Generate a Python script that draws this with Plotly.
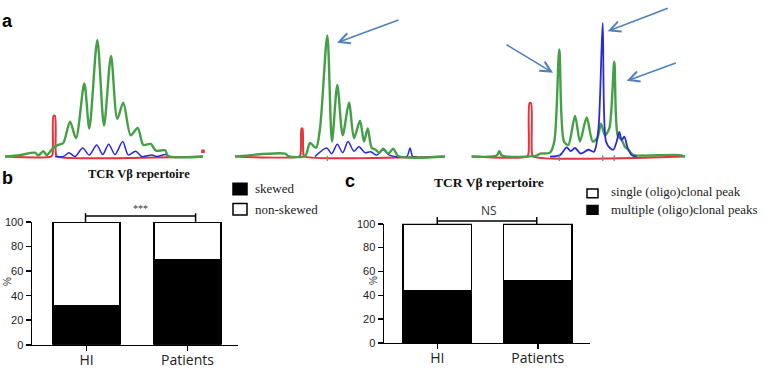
import plotly.graph_objects as go

W, H = 778, 376
def X(px): return px / W
def Y(py): return 1 - py / H

# ---------------- Panel a: spectratype traces ----------------
# plot a1
a1_red_x = [5, 51, 52.5, 53.5, 55, 56, 57.5, 203]
a1_red_y = [0, 0, 2, 42, 42, 2, 0, 0]
a1_green_x = [5, 20, 35, 38.3, 43.3, 46.7, 50, 53.3, 58.3, 63.3, 70, 76, 84.3, 89.3, 97.3, 104, 111, 117.3,
              123.3, 130.7, 137.7, 143.3, 150.7, 156, 165, 168.3, 203]
a1_green_y = [0, 1.5, 4, 1, 5.5, 1.5, 5, 9, 12, 14, 36, 19, 75.5, 29, 120.5, 32, 104, 39,
              55.5, 22, 29.5, 12, 13, 6, 6.5, 0.5, 0]
a1_blue_x = [55, 63.3, 69, 75, 82.7, 89.3, 96.7, 102.7, 108.7, 115, 122.7, 128.3, 135.7, 141.7, 151.7, 156.7, 165.7, 168.3]
a1_blue_y = [0, 0, 3.8, 0, 8.8, 1.5, 12, 2, 12.8, 2, 15.5, 1.5, 5.5, 0, 1.5, 0, 2, 0]
a1_dot_x = [203]
a1_dot_y = [5.5]

# plot a2
a2_red_x = [10, 74, 75.5, 76.5, 77.5, 78.5, 80, 220]
a2_red_y = [0, 0, 2, 29, 29, 2, 0, 0]
a2_green_x = [10, 60, 63.3, 80, 85, 91, 95, 102.3, 107, 112.3, 117.7, 124, 129, 135, 139, 142.7, 146.7,
              150.7, 154, 158.3, 163.3, 168.3, 173.3, 220]
a2_green_y = [0, 3, 0.5, 0.5, 14, 9, 29, 125, 15.5, 74, 22, 55.5, 19, 37, 15.5, 29, 9,
              7, 4, 8, 3, 8, 0.5, 0]
a2_blue_x = [90, 101.7, 106.7, 112.3, 117.7, 123, 129, 134, 140, 145.7, 151.7, 158.3, 164.3, 181.7, 185, 187.7, 191.7]
a2_blue_y = [0, 8.8, 3, 12.8, 4, 15.5, 5.5, 10, 4, 5, 1.5, 7, 1.5, 0, 8.8, 0, 0]
a2_marks_x = [102.3]
a2_marks_y = [-3]

# plot a3
a3_red_x = [6.7, 62, 63.5, 64.5, 66, 67, 68.5, 220]
a3_red_y = [0, 0, 3, 55, 55, 3, 0, 0]
a3_green_x = [6.7, 31.7, 34.3, 37, 71.7, 75, 85, 89.3, 94.3, 99, 103.3, 110, 115, 121.7, 127.7, 132.3, 136,
              140, 144.3, 149.3, 152.7, 156.7, 160, 163.3, 168.3, 178.3, 215, 220]
a3_green_y = [0, 1, 5.5, 1, 1, 3, 4, 15.5, 110.5, 15.5, 12, 42, 15.5, 40.5, 15.5, 19, 34,
              22, 29, 98, 22, 17, 10, 7, 1.5, 1, 1.5, 0]
a3_blue_x = [85, 95, 101.7, 105.7, 110, 115.7, 123.3, 129, 133.3, 137.7, 141, 145, 148.3, 151.7, 154.3,
             156.7, 159.3, 162.7, 166.7, 171.7]
a3_blue_y = [0, 1.5, 9.5, 5.5, 8.8, 3, 7, 5, 27, 138, 15.5, 8.8, 7, 15.5, 25.5, 17, 20.5, 8.8, 1.5, 0]
a3_marks_x = [94.3, 137.7, 149.3]
a3_marks_y = [-3, -3, -3]

# ---------------- Panels b and c ----------------
groups = ["HI", "Patients"]
b_skewed = [32, 69]
b_nonskewed = [68, 31]
c_multiple = [44, 52]
c_single = [56, 48]
y_ticks = [0, 20, 40, 60, 80, 100]

GREEN = "#43a046"
BLUE = "#2b2bd6"
RED = "#e5323b"
ARROW = "#4f81bd"

fig = go.Figure()

def spec(xs, ys, color, width, ax):
    fig.add_trace(go.Scatter(x=xs, y=ys, mode="lines", line=dict(color=color, width=width, shape="spline", smoothing=0.8),
                             xaxis="x" + ax, yaxis="y" + ax, hoverinfo="skip", showlegend=False))

def marks(xs, ys, color, symbol, size, ax):
    fig.add_trace(go.Scatter(x=xs, y=ys, mode="markers",
                             marker=dict(symbol=symbol, size=size, color=color, line=dict(color=color, width=1.5)),
                             xaxis="x" + ax, yaxis="y" + ax, hoverinfo="skip", showlegend=False))

spec(a1_red_x, a1_red_y, RED, 2, "3")
spec(a1_blue_x, a1_blue_y, BLUE, 1.5, "3")
spec(a1_green_x, a1_green_y, GREEN, 2.4, "3")
marks(a1_dot_x, a1_dot_y, RED, "square", 2, "3")
spec(a2_red_x, a2_red_y, RED, 2, "4")
spec(a2_blue_x, a2_blue_y, BLUE, 1.5, "4")
spec(a2_green_x, a2_green_y, GREEN, 2.4, "4")
marks(a2_marks_x, a2_marks_y, "#7a9a7a", "line-ns", 5, "4")
spec(a3_red_x, a3_red_y, RED, 2, "5")
spec(a3_green_x, a3_green_y, GREEN, 2.4, "5")
spec(a3_blue_x, a3_blue_y, BLUE, 1.8, "5")
marks(a3_marks_x, a3_marks_y, "#7a8aa8", "line-ns", 6, "5")

bar_line = dict(color="black", width=1.5)
fig.add_trace(go.Bar(x=groups, y=b_skewed, name="skewed", marker=dict(color="black", line=bar_line),
                     width=0.66, xaxis="x", yaxis="y", showlegend=False))
fig.add_trace(go.Bar(x=groups, y=b_nonskewed, name="non-skewed", marker=dict(color="white", line=bar_line),
                     width=0.66, xaxis="x", yaxis="y", showlegend=False))
fig.add_trace(go.Bar(x=groups, y=c_multiple, name="multiple (oligo)clonal peaks", marker=dict(color="black", line=bar_line),
                     width=0.68, xaxis="x2", yaxis="y2", showlegend=False))
fig.add_trace(go.Bar(x=groups, y=c_single, name="single (oligo)clonal peak", marker=dict(color="white", line=bar_line),
                     width=0.68, xaxis="x2", yaxis="y2", showlegend=False))

hidden = dict(visible=False, showgrid=False, zeroline=False, fixedrange=True)
xcat = dict(type="category", showline=True, linecolor="black", linewidth=1.5, ticks="outside", ticklen=5,
            tickwidth=1.5, tickcolor="black", showgrid=False, zeroline=False, ticklabelstandoff=-3,
            tickfont=dict(family="Open Sans", size=14, color="#222"))
ynum = dict(range=[0, 100], tickvals=y_ticks, showline=True, linecolor="black", linewidth=1.5, ticks="outside",
            ticklen=5, tickwidth=1.5, tickcolor="black", showgrid=False, zeroline=False,
            tickfont=dict(family="Liberation Sans, Arial", size=11, color="#222"))

fig.update_layout(
    width=W, height=H, margin=dict(l=0, r=0, t=0, b=0), paper_bgcolor="white", plot_bgcolor="white",
    barmode="stack", bargap=0, showlegend=False,
    xaxis=dict(xcat, domain=[X(32), X(238)], range=[-0.54, 1.5], anchor="y"),
    yaxis=dict(ynum, domain=[Y(350), Y(223)], anchor="x"),
    xaxis2=dict(xcat, domain=[X(384), X(590)], range=[-0.53, 1.52], anchor="y2"),
    yaxis2=dict(ynum, domain=[Y(348), Y(225)], anchor="x2"),
    xaxis3=dict(hidden, domain=[X(0), X(215)], range=[0, 215], anchor="y3"),
    yaxis3=dict(hidden, domain=[Y(160), Y(0)], range=[-4.5, 155.5], anchor="x3"),
    xaxis4=dict(hidden, domain=[X(225), X(455)], range=[0, 230], anchor="y4"),
    yaxis4=dict(hidden, domain=[Y(160), Y(0)], range=[-4.5, 155.5], anchor="x4"),
    xaxis5=dict(hidden, domain=[X(465), X(700)], range=[0, 235], anchor="y5"),
    yaxis5=dict(hidden, domain=[Y(160), Y(0)], range=[-4.5, 155.5], anchor="x5"),
)

ann = []
def arrow(ax_id, hx, hy, tx, ty):
    ann.append(dict(x=hx, y=hy, ax=tx, ay=ty, xref="x" + ax_id, yref="y" + ax_id, axref="x" + ax_id,
                    ayref="y" + ax_id, text="", showarrow=True, arrowhead=5, arrowsize=1.3, arrowwidth=1.6,
                    arrowcolor=ARROW, standoff=0))

arrow("4", 112, 117.5, 175, 141.5)
arrow("5", 88, 86.5, 40, 116.5)
arrow("5", 142.7, 129.5, 204.3, 153.8)
arrow("5", 161.7, 78.2, 212.3, 97.2)

def label(txt, px, py, size=18, family="Liberation Sans, Arial", color="black", bold=True, xanchor="center", angle=0):
    t = f"<b>{txt}</b>" if bold else txt
    ann.append(dict(text=t, x=X(px), y=Y(py), xref="paper", yref="paper", showarrow=False, xanchor=xanchor,
                    yanchor="middle", textangle=angle, font=dict(size=size, family=family, color=color)))

label("a", 7, 15)
label("b", 7, 178)
label("c", 350, 181)
label("TCR Vβ repertoire", 139, 174, size=12.5, family="Liberation Serif", color="#111")
label("TCR Vβ repertoire", 489, 182, size=13.5, family="Liberation Serif", color="#111")
label("%", 8, 284, size=10, bold=False, color="#333", angle=-90)
label("%", 374, 284, size=10, bold=False, color="#333", angle=-90)
label("***", 140, 209, size=10, family="Liberation Serif", bold=False, color="#333")
label("NS", 489, 211, size=12, family="Open Sans", bold=False, color="#333")

# legends
label("skewed", 253, 189, size=13, family="Liberation Serif", bold=False, color="#222", xanchor="left")
label("non-skewed", 253, 210, size=13, family="Liberation Serif", bold=False, color="#222", xanchor="left")
label("single (oligo)clonal peak", 609, 192, size=13, family="Liberation Serif", bold=False, color="#222", xanchor="left")
label("multiple (oligo)clonal peaks", 609, 210, size=13, family="Liberation Serif", bold=False, color="#222", xanchor="left")

shapes = []
def box(x0, y0, x1, y1, fill):
    shapes.append(dict(type="rect", xref="paper", yref="paper", x0=X(x0), x1=X(x1), y0=Y(y1), y1=Y(y0),
                       fillcolor=fill, line=dict(color="black", width=1.5)))
box(233, 183, 247, 195, "black")
box(233, 204, 247, 216, "white")
box(587, 189, 598, 198, "white")
box(587, 206, 598, 215, "black")

def bracket(xr, xl, xrr, py, ptop, pbot):
    shapes.append(dict(type="line", xref=xr, yref="paper", x0=xl, x1=xrr, y0=Y(py), y1=Y(py),
                       line=dict(color="black", width=1.5)))
    for xx in (xl, xrr):
        shapes.append(dict(type="line", xref=xr, yref="paper", x0=xx, x1=xx, y0=Y(ptop), y1=Y(pbot),
                           line=dict(color="black", width=1.5)))
bracket("x", -0.01, 1.08, 217, 214, 223)
bracket("x2", 0, 0.99, 222, 218, 226)

fig.update_layout(annotations=ann, shapes=shapes)
fig.write_html("out.html", config={"displayModeBar": False, "staticPlot": True},
               post_script="document.body.style.margin='0';document.body.style.overflow='hidden';")
